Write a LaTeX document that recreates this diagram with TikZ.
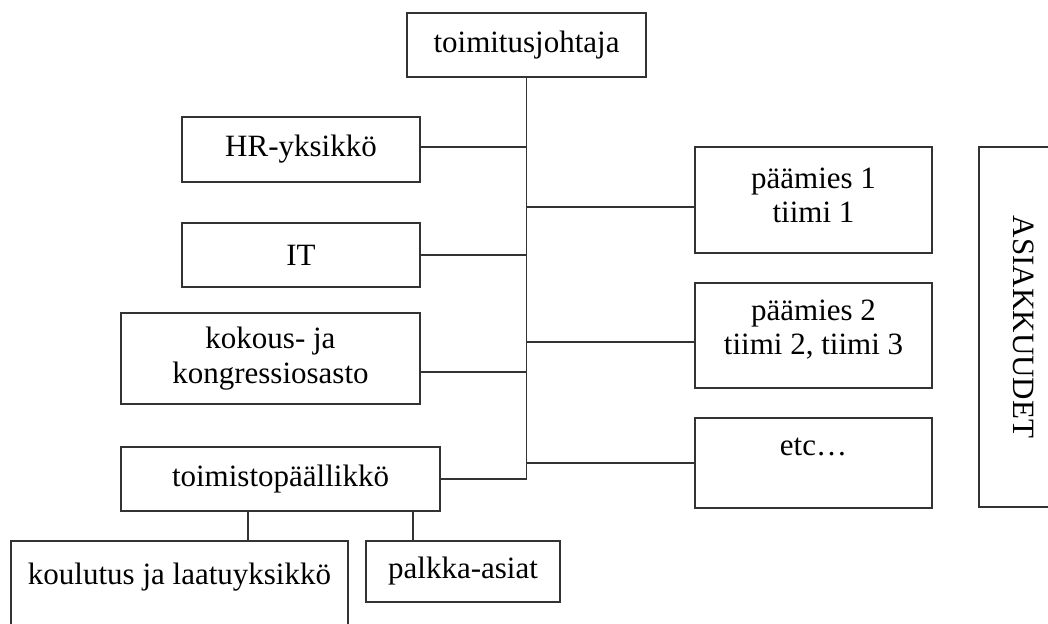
\documentclass[tikz,border=0pt]{standalone}
\usepackage{fontspec}
\setmainfont{Liberation Serif}
\usetikzlibrary{calc}
\begin{document}
\begin{tikzpicture}[x=1pt,y=-1pt,
  box/.style={draw=black!80, line width=1.8pt, rectangle, inner sep=0pt,
              font=\fontsize{31}{35}\selectfont, align=center},
  txt/.style={inner sep=0pt, font=\fontsize{31}{34}\selectfont, align=center},
  link/.style={draw=black!80, line width=1.8pt}]
\useasboundingbox (0,0) rectangle (1048,623);
\clip (0,0) rectangle (1048,623);

% management
\node[box, minimum width=239, minimum height=64] (ceo) at (526.5,45) {toimitusjohtaja};

% support units (left)
\node[box, minimum width=238, minimum height=65] (hr) at (301,149.5) {HR-yksikkö};
\node[box, minimum width=238, minimum height=64] (it) at (301,255) {IT};
\node[box, minimum width=299, minimum height=91] (kok) at (270.5,358.5) {kokous- ja\\kongressiosasto};
\node[box, minimum width=319, minimum height=64] (office) at (280.5,479) {toimistopäällikkö};
\node[box, minimum width=337, minimum height=138] (edu) at (179.5,610) {};
\node[txt] (edutxt) at (179.5,577) {koulutus ja laatuyksikkö};
\node[box, minimum width=194, minimum height=61] (pay) at (463,571.5) {palkka-asiat};

% principals (right)
\node[box, minimum width=237, minimum height=106] (p1) at (813.5,200) {};
\node[txt] (p1txt) at (813.5,195) {päämies 1\\tiimi 1};
\node[box, minimum width=237, minimum height=105] (p2) at (813.5,335.5) {};
\node[txt] (p2txt) at (813.5,330) {päämies 2\\tiimi 2, tiimi 3};
\node[box, minimum width=237, minimum height=90] (etc) at (813.5,463) {};
\node[txt] (etctxt) at (813.5,447) {etc…};

% clients
\node[box, minimum width=91, minimum height=360] (cli) at (1024.5,327) {};
\node[txt, rotate=-90] (clitxt) at (1024,327) {ASIAKKUUDET};

% trunk
\draw[link] (ceo.south) -- (ceo.south |- office.east) -- (office.east);

% left branches
\coordinate (hrj) at ($(hr.east)+(0,-2.5)$);
\draw[link] (hrj) -- (hrj -| ceo.south);
\draw[link] (it.east) -- (it.east -| ceo.south);
\coordinate (kokj) at ($(kok.east)+(0,13.5)$);
\draw[link] (kokj) -- (kokj -| ceo.south);

% right branches
\coordinate (p1j) at ($(p1.west)+(0,7)$);
\coordinate (p2j) at ($(p2.west)+(0,6.5)$);
\draw[link] (p1j -| ceo.south) -- (p1j);
\draw[link] (p2j -| ceo.south) -- (p2j);
\draw[link] (etc.west -| ceo.south) -- (etc.west);

% office sub-units
\coordinate (d1) at (248,0);
\coordinate (d2) at (413,0);
\draw[link] (office.south -| d1) -- (edu.north -| d1);
\draw[link] (office.south -| d2) -- (pay.north -| d2);
\end{tikzpicture}
\end{document}
